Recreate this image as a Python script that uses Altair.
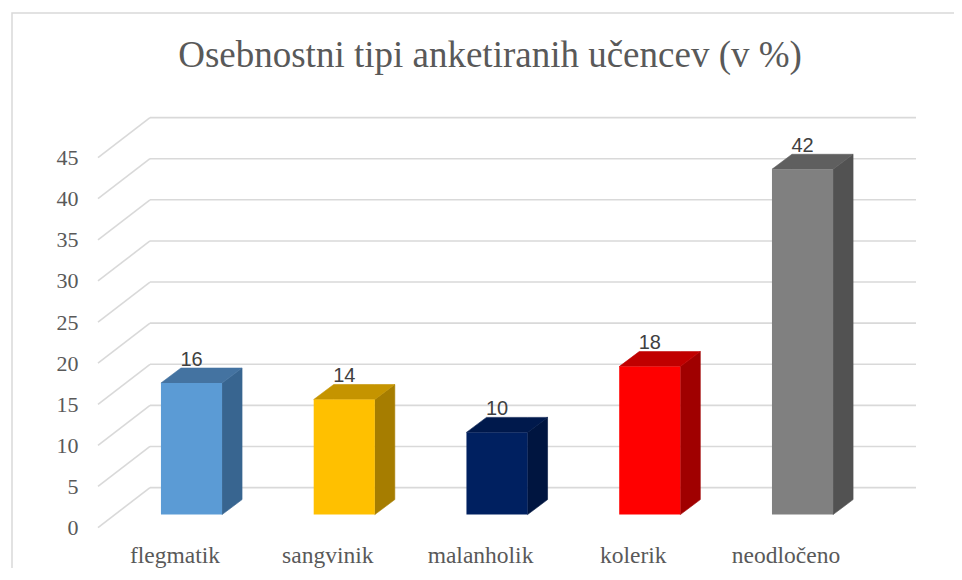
import altair as alt
import pandas as pd

# ---------------- data ----------------
categories = ["flegmatik", "sangvinik", "malanholik", "kolerik", "neodločeno"]
values = [16, 14, 10, 18, 42]
front_colors = ["#5B9BD5", "#FFC000", "#002060", "#FF0000", "#808080"]
top_colors = ["#4473A1", "#C59400", "#00194C", "#C00000", "#5F5F5F"]
side_colors = ["#386590", "#A67D00", "#001540", "#A00000", "#525252"]
y_ticks = [0, 5, 10, 15, 20, 25, 30, 35, 40, 45]
title_text = "Osebnostni tipi anketiranih učencev (v %)"

# ---------------- layout / style constants ----------------
W, H = 818, 370
X_DOMAIN = [-0.1121, 5.2429]     # category units (bar i centred at i + 0.5)
Y_DOMAIN = [0, 45]
HALF = 0.2                       # half bar width, category units
PX_PER_X = W / (X_DOMAIN[1] - X_DOMAIN[0])
PX_PER_Y = H / (Y_DOMAIN[1] - Y_DOMAIN[0])
DX = 20 / PX_PER_X               # bar depth (x)
DY = 15 / PX_PER_Y               # bar depth (y)
BAR_SHIFT = -13                  # bars sit a little behind the front plane
WALL_DX, WALL_DY = 52, -40       # back wall offset in pixels
GRID = "#D9D9D9"
TXT = "#595959"

# ---------------- tables built from the arrays ----------------
front = pd.DataFrame({
    "cat": categories,
    "xc": [i + 0.5 for i in range(len(categories))],
    "xl": [i + 0.5 - HALF for i in range(len(categories))],
    "xr": [i + 0.5 + HALF for i in range(len(categories))],
    "v": values,
    "c": front_colors,
})

side_rows, top_rows = [], []
for i, (cat, v) in enumerate(zip(categories, values)):
    xl, xr = i + 0.5 - HALF, i + 0.5 + HALF
    sc, tc = side_colors[i], top_colors[i]
    side_rows += [
        {"cat": cat, "x": xr, "y": 0, "y2": v, "c": sc},
        {"cat": cat, "x": xr + DX, "y": DY, "y2": v + DY, "c": sc},
    ]
    top_rows += [
        {"cat": cat, "x": xl, "y": v, "y2": v, "c": tc},
        {"cat": cat, "x": xl + DX, "y": v, "y2": v + DY, "c": tc},
        {"cat": cat, "x": xr, "y": v, "y2": v + DY, "c": tc},
        {"cat": cat, "x": xr + DX, "y": v + DY, "y2": v + DY, "c": tc},
    ]
side = pd.DataFrame(side_rows)
top = pd.DataFrame(top_rows)
ticks = pd.DataFrame({"v": y_ticks})

x_scale = alt.Scale(domain=X_DOMAIN, nice=False, zero=False)
y_scale = alt.Scale(domain=Y_DOMAIN, nice=False, zero=True)
y_axis = alt.Axis(values=y_ticks, title=None, domain=False, ticks=False,
                  grid=False, labelPadding=20, labelFont="Liberation Serif",
                  labelFontSize=22, labelColor=TXT)

# ---------------- layers ----------------
border = alt.Chart(alt.Data(values=[{}])).mark_rect(
    fill="transparent", stroke=GRID, strokeWidth=1.5
).encode(
    x=alt.value(12 - 98), x2=alt.value(W + 200),
    y=alt.value(13 - 157.6), y2=alt.value(H + 200),
)

title = alt.Chart(alt.Data(values=[{"t": title_text}])).mark_text(
    font="Liberation Serif", fontSize=37, color=TXT,
    align="center", baseline="alphabetic"
).encode(
    x=alt.value(490 - 98), y=alt.value(67 - 157.6), text="t:N",
)

diag = alt.Chart(ticks).mark_rule(
    color=GRID, strokeWidth=1.6, y2Offset=WALL_DY
).encode(
    x=alt.value(0), x2=alt.value(WALL_DX),
    y=alt.Y("v:Q", scale=y_scale, axis=y_axis),
    y2=alt.Y2("v:Q"),
)

wall = alt.Chart(ticks).mark_rule(
    color=GRID, strokeWidth=1.6, yOffset=WALL_DY
).encode(
    x=alt.value(WALL_DX), x2=alt.value(W),
    y=alt.Y("v:Q", scale=y_scale, axis=y_axis),
)

side_layer = alt.Chart(side).mark_area(
    orient="vertical", yOffset=BAR_SHIFT, y2Offset=BAR_SHIFT, strokeWidth=0.6
).encode(
    x=alt.X("x:Q", scale=x_scale, axis=None),
    y=alt.Y("y:Q", scale=y_scale, axis=y_axis, stack=None),
    y2=alt.Y2("y2:Q"),
    detail="cat:N",
    fill=alt.Fill("c:N", scale=None),
    stroke=alt.Stroke("c:N", scale=None),
)

top_layer = alt.Chart(top).mark_area(
    orient="vertical", yOffset=BAR_SHIFT, y2Offset=BAR_SHIFT, strokeWidth=0.6
).encode(
    x=alt.X("x:Q", scale=x_scale, axis=None),
    y=alt.Y("y:Q", scale=y_scale, axis=y_axis, stack=None),
    y2=alt.Y2("y2:Q"),
    detail="cat:N",
    fill=alt.Fill("c:N", scale=None),
    stroke=alt.Stroke("c:N", scale=None),
)

front_layer = alt.Chart(front).mark_rect(
    yOffset=BAR_SHIFT, y2Offset=BAR_SHIFT
).encode(
    x=alt.X("xl:Q", scale=x_scale, axis=None),
    x2="xr:Q",
    y=alt.Y("v:Q", scale=y_scale, axis=y_axis),
    y2=alt.Y2(datum=0),
    fill=alt.Fill("c:N", scale=None),
)

value_labels = alt.Chart(front).mark_text(
    font="Liberation Sans", fontSize=20, color="#404040",
    align="center", baseline="alphabetic", yOffset=BAR_SHIFT - 17.5
).encode(
    x=alt.X("xc:Q", scale=x_scale, axis=None),
    y=alt.Y("v:Q", scale=y_scale, axis=y_axis),
    text=alt.Text("v:Q"),
)

cat_labels = alt.Chart(front).mark_text(
    font="Liberation Serif", fontSize=23.5, color=TXT,
    align="center", baseline="alphabetic", xOffset=-16.5
).encode(
    x=alt.X("xc:Q", scale=x_scale, axis=None),
    y=alt.value(405.4),
    text="cat:N",
)

chart = alt.layer(
    border, title, diag, wall, side_layer, top_layer, front_layer,
    value_labels, cat_labels
).properties(
    width=W, height=H,
    padding={"left": 90, "top": 149.6, "right": 38, "bottom": 40.4},
    autosize=alt.AutoSizeParams(type="none"),
).configure_view(stroke=None)

chart.save("out.html", embed_options={"renderer": "svg", "actions": False})
